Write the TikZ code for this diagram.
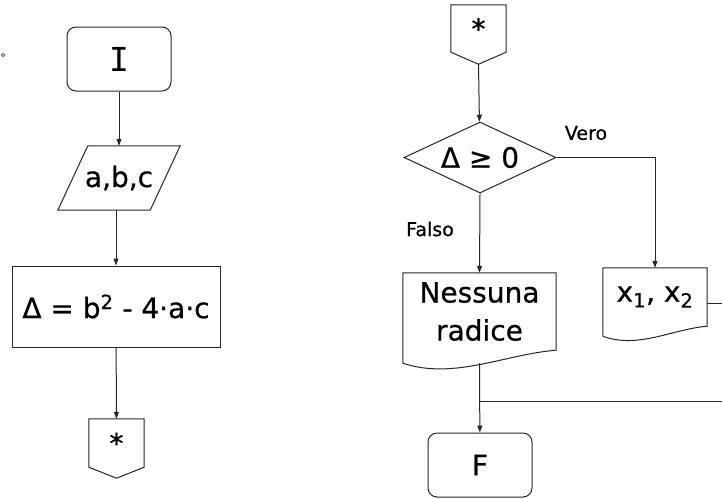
\documentclass[tikz,border=0pt]{standalone}
\usepackage{fontspec}
\setmainfont[FakeBold=0.6,AutoFakeBold=0.6]{DejaVu Sans}
\newfontfamily\serifI{DejaVu Sans Mono}
\usetikzlibrary{arrows.meta,calc,shapes.geometric}
\begin{document}
\begin{tikzpicture}[x=1pt,y=-1pt,
  line/.style={draw=black!85, line width=1pt},
  flow/.style={line, -{Triangle[length=7pt,width=5pt]}},
  big/.style={font=\fontsize{28}{38}\selectfont\bfseries},
  small/.style={font=\fontsize{19}{22}\selectfont},
  terminal/.style={line, rounded corners=9pt, minimum width=104pt,
    minimum height=64pt, big, inner sep=0pt},
  process/.style={line, minimum width=208pt, minimum height=81pt,
    big, inner sep=0pt},
  frame/.style={minimum width=#1, inner sep=0pt, big, align=center},
  decision/.style={line, shape=diamond, minimum width=152pt,
    minimum height=71pt, inner sep=0pt, shape aspect=2.14, big}
]
\useasboundingbox (0,0) rectangle (722,498);

% stray mark in the left margin
\draw[black!70, line width=0.6pt] (3,55) circle (1.6pt);

% ---------- left column: input and discriminant ----------
\node[terminal] (start) at (119,59) {\serifI\mdseries\fontsize{33}{38}\selectfont I};

\node[frame=122pt, minimum height=64pt] (inp) at (119,178) {a,b,c};
\draw[line] ($(inp.north west)+(30,0)$) -- (inp.north east)
  -- ($(inp.south east)+(-30,0)$) -- (inp.south west) -- cycle;

\node[process] (disc) at (116,306.5) {Δ = b\textsuperscript{2} - 4·a·c};

\node[frame=55pt, minimum height=48pt] (outA) at (116.5,443) {*};
\draw[line] (outA.north west) -- (outA.north east) -- (outA.south east)
  -- ($(outA.south)+(0,11)$) coordinate (outA-tip) -- (outA.south west) -- cycle;

\draw[flow] (start) -- (inp);
\draw[flow] (disc.north |- inp.south) -- (disc.north);
\draw[flow] (disc) -- (outA);

% ---------- right column: decision and outputs ----------
\node[frame=55pt, minimum height=47pt] (inB) at (478.5,28.5) {*};
\draw[line] (inB.north west) -- (inB.north east) -- (inB.south east)
  -- ($(inB.south)+(0,12)$) coordinate (inB-tip) -- (inB.south west) -- cycle;

\node[decision] (test) at (480,157.5) {Δ ≥ 0};

% document: no real roots
\node[frame=153pt, minimum height=77pt] (none) at (479.5,311.5) {Nessuna\\radice};
\draw[line] ($(none.south west)+(0,13)$) coordinate (none-l)
  -- (none.north west) -- (none.north east) -- (none.south east)
  .. controls ($(none.south east)+(-51,4)$) and ($(none-l)+(51,17)$) .. (none-l);
\coordinate (none-tail) at ($(none.south)+(0,13)$);

% document: the two roots
\node[frame=104pt, minimum height=58pt] (roots) at (655,297)
  {x\textsubscript{1}, x\textsubscript{2}};
\draw[line] ($(roots.south west)+(0,10)$) coordinate (roots-l)
  -- (roots.north west) -- (roots.north east) -- (roots.south east)
  .. controls ($(roots.south east)+(-35,3)$) and ($(roots-l)+(35,13)$) .. (roots-l);

\node[terminal] (stop) at (480,465) {F};

\draw[flow] (inB-tip) -- (test);
\draw[flow] (test.east) -| (roots.north);
\draw[flow] (test.south) -- (none.north);
\node[small] (yes) at (586,133) {Vero};
\node[small] (no) at (430,229) {Falso};

\coordinate (join) at (none.north |- 0,401);
\coordinate (join-r) at (722,401);
\coordinate (roots-r) at (722,303);
\draw[flow] (none-tail) -- (stop);
\draw[line] (join) -- (join-r);
\draw[line] (roots.east |- roots-r) -- (roots-r);
\end{tikzpicture}
\end{document}
